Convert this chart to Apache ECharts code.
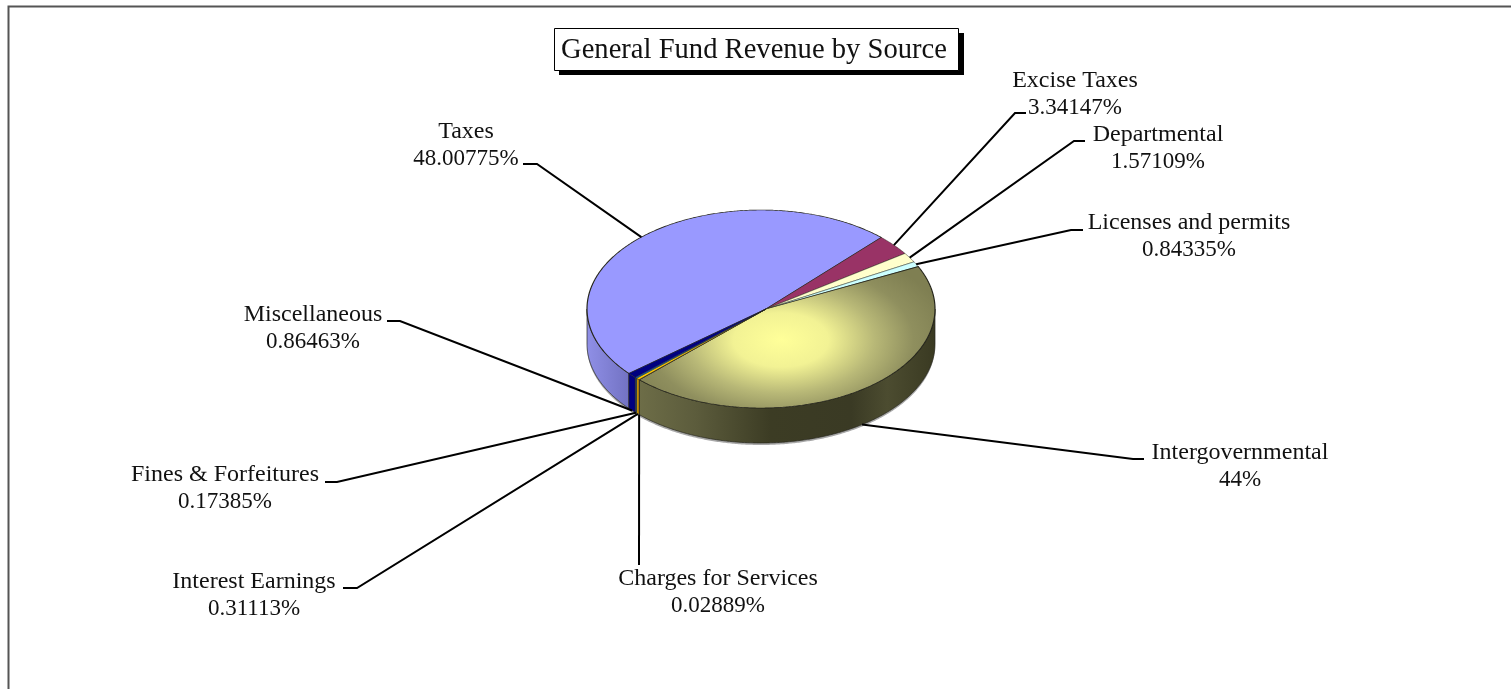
<!DOCTYPE html>
<html>
<head>
<meta charset="utf-8">
<title>General Fund Revenue by Source</title>
<script src="https://cdn.jsdelivr.net/npm/echarts@6/dist/echarts.min.js"></script>
<style>
  html, body { margin: 0; padding: 0; background: #fff; overflow: hidden; }
  #chart { width: 1511px; height: 689px; }
</style>
</head>
<body>
<div id="chart"></div>
<script>
const categories = ["Taxes", "Excise Taxes", "Departmental", "Licenses and permits", "Intergovernmental",
  "Charges for Services", "Interest Earnings", "Fines & Forfeitures", "Miscellaneous"];
const values = [48.00775, 3.34147, 1.57109, 0.84335, 44, 0.02889, 0.31113, 0.17385, 0.86463];

// look of the pie
const topColors = ["#9999ff", "#993366", "#ffffcc", "#ccffff", null, "#ff8080", "#ffcc00", "#0066cc", "#000080"];
const wallColors = ["#8080d8", "#7a2850", "#cccca0", "#a0cccc", null, "#cc6666", "#e0a000", "#0050a0", "#000080"];
const FONT = '"Liberation Serif", serif';
const cx = 761, cy = 309, rx = 174, ry = 99, depth = 35, startAngle = -130.6;
const apexDx = 5;
const k = ry / rx;

// where each label sits and how its leader line bends: text centre, leader start, elbow
const labelCenters = [[466, 145], [1075, 94], [1158, 148], [1189, 236], [1240, 466], [718, 592], [254, 595], [225, 488], [313, 328]];
const leaderStarts = [[523, 164], [1026, 113], [1085, 141], [1083, 230], [1144, 459], [639, 565], [343, 588], [325, 482], [387, 321]];
const leaderElbows = [[537, 164], [1015, 113], [1074, 141], [1071, 230], [1133, 459], [639, 565], [357, 588], [337, 482], [400, 321]];

const total = values.reduce((a, b) => a + b, 0);
const slices = [];
let acc = startAngle;
values.forEach(function (v) {
  const sweep = v / total * 360;
  slices.push({ from: acc, to: acc + sweep });
  acc += sweep;
});

function rim(deg, yOff) {
  const a = deg * Math.PI / 180;
  return [rx * Math.sin(a), -rx * Math.cos(a) + (yOff || 0) / k];
}

function arcPoints(from, to, yOff) {
  const pts = [];
  const n = Math.max(2, Math.ceil((to - from) * 2));
  for (let i = 0; i <= n; i++) pts.push(rim(from + (to - from) * i / n, yOff));
  return pts;
}

// front part of the slice, from 90 to 270 degrees clockwise from the top
function frontRange(s) {
  let from = s.from, to = s.to;
  if (from < 0) { from += 360; to += 360; }
  from = Math.max(from, 90);
  to = Math.min(to, 270);
  return from < to ? [from, to] : null;
}

function topFill(i) {
  if (i !== 4) return topColors[i];
  // global coordinates inside the squashed group, so the glow is an ellipse
  return new echarts.graphic.RadialGradient(20, 31 / k, 170, [
    { offset: 0, color: "#ffff99" },
    { offset: 0.28, color: "#f2f294" },
    { offset: 0.55, color: "#b8b877" },
    { offset: 0.78, color: "#8f8f5e" },
    { offset: 1, color: "#7f7f52" }
  ], true);
}

function wallFill(i) {
  if (i === 0) {
    return new echarts.graphic.LinearGradient(-rx, 0, -rx + 45, 0, [
      { offset: 0, color: "#8f8fe6" },
      { offset: 1, color: "#7070c0" }
    ], true);
  }
  if (i === 4) {
    return new echarts.graphic.LinearGradient(-125, 0, rx, 0, [
      { offset: 0, color: "#6e6e48" },
      { offset: 0.2, color: "#5c5c3c" },
      { offset: 0.45, color: "#3c3c24" },
      { offset: 0.72, color: "#3a3a24" },
      { offset: 0.84, color: "#4c4c30" },
      { offset: 1, color: "#3a3a22" }
    ], true);
  }
  return wallColors[i];
}

function renderSlice(params, api) {
  const i = api.value(0);
  const s = slices[i];
  const children = [];
  const front = frontRange(s);
  if (front) {
    const top = arcPoints(front[0], front[1], 0);
    const bottom = arcPoints(front[0], front[1], depth).reverse();
    children.push({
      type: "polygon",
      shape: { points: arcPoints(front[0], front[1], depth + 2).concat(top.slice().reverse()) },
      style: { fill: "#a8a8a8" },
      silent: true
    });
    children.push({
      type: "polygon",
      shape: { points: top.concat(bottom) },
      style: { fill: wallFill(i), stroke: "#26261c", lineWidth: 0.9, strokeNoScale: true }
    });
  }
  children.push({
    type: "polygon",
    shape: { points: [[apexDx, 0]].concat(arcPoints(s.from, s.to, 0)) },
    style: { fill: topFill(i), stroke: "#26261c", lineWidth: i === 4 || i === 0 ? 1.2 : 0.6, strokeNoScale: true }
  });
  return { type: "group", x: cx, y: cy, scaleY: k, children: children };
}

function renderLabel(params, api) {
  const i = api.value(0);
  const s = slices[i];
  const mid = (s.from + s.to) / 2;
  const p = rim(mid, 0);
  const isFront = !!frontRange({ from: mid, to: mid + 0.001 });
  const end = [cx + p[0], cy + p[1] * k + (isFront ? depth : 0)];
  return {
    type: "group",
    children: [
      {
        type: "polyline",
        shape: { points: [leaderStarts[i], leaderElbows[i], end] },
        style: { stroke: "#000", lineWidth: 2, fill: null }
      },
      {
        type: "text",
        x: labelCenters[i][0],
        y: labelCenters[i][1],
        style: {
          text: "{n|" + categories[i] + "}\n{v|" + values[i] + "%}",
          rich: {
            n: { fontFamily: FONT, fontSize: 24, lineHeight: 27, fill: "#111" },
            v: { fontFamily: FONT, fontSize: 23, lineHeight: 27, fill: "#111" }
          },
          align: "center",
          verticalAlign: "middle"
        }
      }
    ]
  };
}

const myChart = echarts.init(document.getElementById("chart"), null, { renderer: "canvas" });

const indexData = categories.map((c, i) => [i]);

myChart.setOption({
  animation: false,
  backgroundColor: "#fff",
  tooltip: { show: false },
  title: {
    text: "General Fund Revenue by Source",
    left: 561,
    top: 36,
    padding: 0,
    textStyle: { fontFamily: FONT, fontSize: 28.6, fontWeight: "normal", color: "#111" }
  },
  graphic: [
    {
      type: "rect",
      silent: true,
      z: 0,
      shape: { x: 8.5, y: 6.5, width: 1700, height: 900 },
      style: { fill: "none", stroke: "#555", lineWidth: 2 }
    },
    {
      type: "rect",
      silent: true,
      z: 1,
      shape: { x: 559, y: 33, width: 405, height: 42 },
      style: { fill: "#000" }
    },
    {
      type: "rect",
      silent: true,
      z: 2,
      shape: { x: 554.5, y: 28.5, width: 404, height: 42 },
      style: { fill: "#fff", stroke: "#000", lineWidth: 1 }
    }
  ],
  series: [
    { type: "custom", coordinateSystem: "none", data: indexData, renderItem: renderSlice, silent: true, z: 2 },
    { type: "custom", coordinateSystem: "none", data: indexData, renderItem: renderLabel, silent: true, z: 3 }
  ]
});

window.addEventListener("resize", () => {
  myChart.resize();
});
</script>
</body>
</html>
